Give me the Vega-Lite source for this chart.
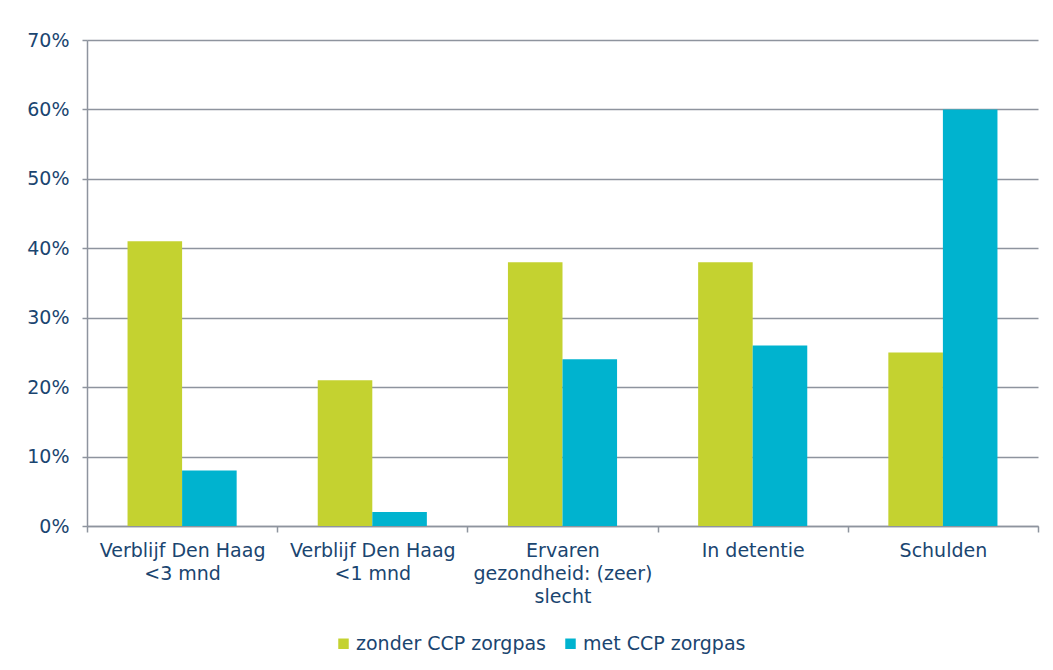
{
  "$schema": "https://vega.github.io/schema/vega-lite/v6.json",
  "width": 951,
  "height": 486,
  "autosize": {"type": "none"},
  "padding": {"left": 87, "top": 40, "right": 15, "bottom": 144},
  "background": "white",
  "config": {
    "font": "DejaVu Sans",
    "view": {"stroke": null},
    "axis": {
      "labelFont": "DejaVu Sans",
      "labelFontSize": 19,
      "labelColor": "#1A4570",
      "domainColor": "#8E949E",
      "tickColor": "#8E949E",
      "gridColor": "#8E949E",
      "domainWidth": 1.5,
      "tickWidth": 1.5,
      "gridWidth": 1.5
    }
  },
  "data": {
    "values": [
      {"categorie": "Verblijf Den Haag <3 mnd", "groep": "zonder CCP zorgpas", "waarde": 0.41},
      {"categorie": "Verblijf Den Haag <3 mnd", "groep": "met CCP zorgpas", "waarde": 0.08},
      {"categorie": "Verblijf Den Haag <1 mnd", "groep": "zonder CCP zorgpas", "waarde": 0.21},
      {"categorie": "Verblijf Den Haag <1 mnd", "groep": "met CCP zorgpas", "waarde": 0.02},
      {"categorie": "Ervaren gezondheid: (zeer) slecht", "groep": "zonder CCP zorgpas", "waarde": 0.38},
      {"categorie": "Ervaren gezondheid: (zeer) slecht", "groep": "met CCP zorgpas", "waarde": 0.24},
      {"categorie": "In detentie", "groep": "zonder CCP zorgpas", "waarde": 0.38},
      {"categorie": "In detentie", "groep": "met CCP zorgpas", "waarde": 0.26},
      {"categorie": "Schulden", "groep": "zonder CCP zorgpas", "waarde": 0.25},
      {"categorie": "Schulden", "groep": "met CCP zorgpas", "waarde": 0.60}
    ]
  },
  "mark": {"type": "bar"},
  "encoding": {
    "x": {
      "field": "categorie",
      "type": "nominal",
      "sort": null,
      "title": null,
      "scale": {"paddingInner": 0, "paddingOuter": 0},
      "axis": {
        "labelAngle": 0,
        "tickBand": "extent",
        "tickSize": 6,
        "labelPadding": 9,
        "labelLineHeight": 23,
        "labelBaseline": "top",
        "labelLimit": 300,
        "grid": false,
        "labelExpr": "datum.value == 'Verblijf Den Haag <3 mnd' ? ['Verblijf Den Haag','<3 mnd'] : datum.value == 'Verblijf Den Haag <1 mnd' ? ['Verblijf Den Haag','<1 mnd'] : datum.value == 'Ervaren gezondheid: (zeer) slecht' ? ['Ervaren','gezondheid: (zeer)','slecht'] : datum.value"
      }
    },
    "xOffset": {
      "field": "groep",
      "type": "nominal",
      "sort": ["zonder CCP zorgpas", "met CCP zorgpas"],
      "scale": {"paddingInner": 0, "paddingOuter": 0.743}
    },
    "y": {
      "field": "waarde",
      "type": "quantitative",
      "title": null,
      "scale": {"domain": [0, 0.7], "nice": false},
      "axis": {
        "format": ".0%",
        "values": [0, 0.1, 0.2, 0.3, 0.4, 0.5, 0.6, 0.7],
        "tickSize": 5,
        "labelPadding": 13,
        "grid": true
      }
    },
    "color": {
      "field": "groep",
      "type": "nominal",
      "sort": ["zonder CCP zorgpas", "met CCP zorgpas"],
      "scale": {"domain": ["zonder CCP zorgpas", "met CCP zorgpas"], "range": ["#C4D230", "#00B3CF"]},
      "legend": {
        "title": null,
        "orient": "none",
        "direction": "horizontal",
        "legendX": 247,
        "legendY": 594,
        "symbolType": "square",
        "symbolSize": 110,
        "symbolStrokeWidth": 0,
        "labelFont": "DejaVu Sans",
        "labelFontSize": 19,
        "labelColor": "#1A4570",
        "labelLimit": 400,
        "labelOffset": 3,
        "columnPadding": 14
      }
    }
  }
}
